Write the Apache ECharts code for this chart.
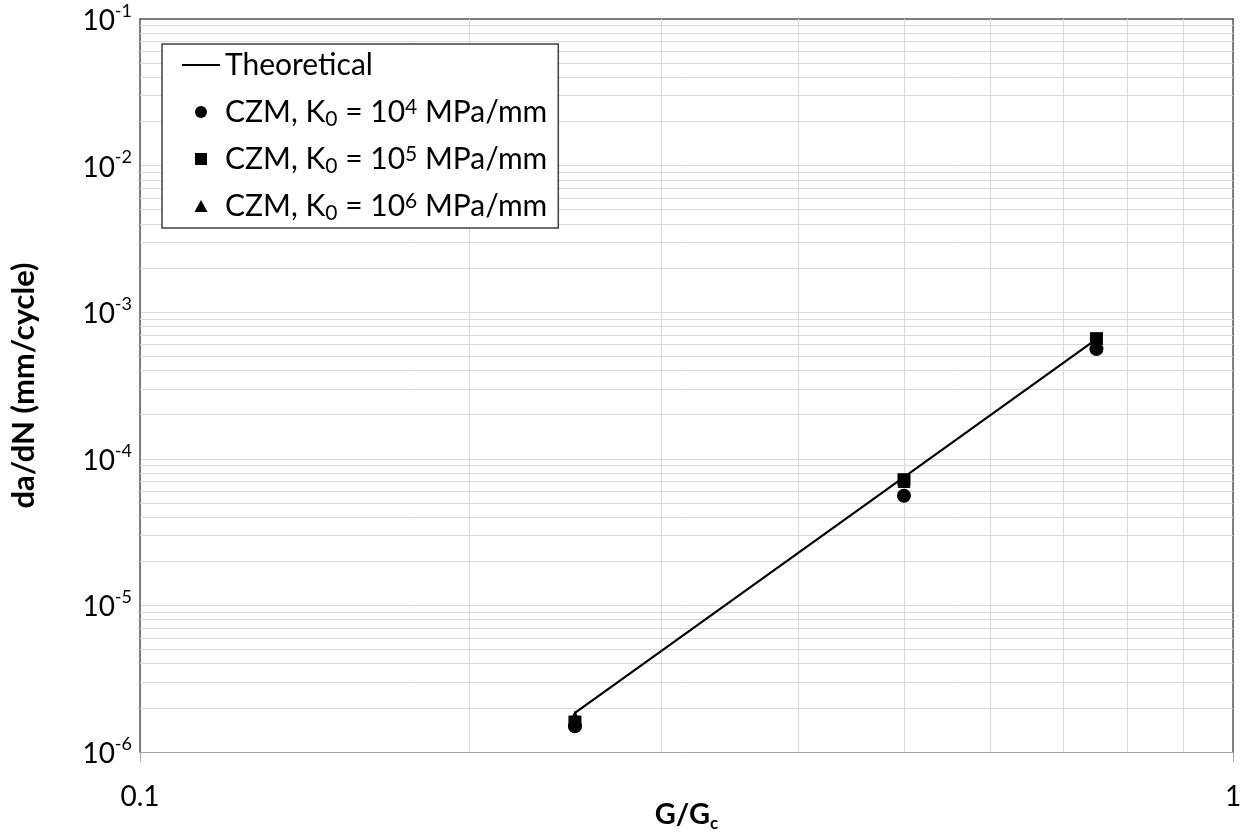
<!DOCTYPE html>
<html>
<head>
<meta charset="utf-8">
<script src="https://cdn.jsdelivr.net/npm/echarts@6/dist/echarts.min.js"></script>
<style>
html,body{margin:0;padding:0;background:#fff;}
#chart{width:1248px;height:836px;}
</style>
</head>
<body>
<div id="chart"></div>
<script>
// ---- data ----
const gRatio = [0.25, 0.5, 0.75];
const theoretical = [1.85e-6, 7.5e-5, 6.55e-4];
const czmK4 = [1.5e-6, 5.6e-5, 5.6e-4];
const czmK5 = [1.6e-6, 7.2e-5, 6.6e-4];
const czmK6 = [1.73e-6, 7.0e-5, 6.3e-4];
const seriesNames = ['Theoretical', 'CZM, K0 = 10^4 MPa/mm', 'CZM, K0 = 10^5 MPa/mm', 'CZM, K0 = 10^6 MPa/mm'];
const legendLabels = ['Theoretical', 'CZM, K{sub|0} = 10{sup|4} MPa/mm', 'CZM, K{sub|0} = 10{sup|5} MPa/mm', 'CZM, K{sub|0} = 10{sup|6} MPa/mm'];
const xTickLabels = {0.1: '0.1', 1: '1'};
const xMinorGrid = [0.2, 0.3, 0.4, 0.5, 0.6, 0.7, 0.8, 0.9];
const yMinorMantissa = [2, 3, 4, 5, 6, 7, 8, 9];
const yDecades = [1e-6, 1e-5, 1e-4, 1e-3, 1e-2];

const pairs = (ys) => gRatio.map((x, i) => [x, ys[i]]);
const yMinorGrid = [];
yDecades.forEach(d => yMinorMantissa.forEach(m => yMinorGrid.push(m * d)));

const FONT = 'Lato';
const legendIcons = [
  'path://M0,0 L36,0 L36,2 L0,2 Z',
  'circle',
  'path://M0,0 L11,0 L11,11 L0,11 Z',
  'path://M6,0 L12,11 L0,11 Z'
];
const chart = echarts.init(document.getElementById('chart'), null, {renderer: 'canvas'});

const option = {
  animation: false,
  backgroundColor: '#fff',
  grid: {left: 140, right: 15, top: 19, bottom: 84, outerBoundsMode: 'none', containLabel: false},
  legend: {
    orient: 'vertical',
    left: 162, top: 44,
    padding: [1.5, 11, 2.5, 20],
    itemGap: 8,
    itemWidth: 38, itemHeight: 12,
    borderColor: '#404040', borderWidth: 1.5,
    backgroundColor: '#fff',
    symbolKeepAspect: true,
    z: 10,
    data: seriesNames.map((n, i) => ({name: n, icon: legendIcons[i], itemStyle: {color: '#000', opacity: 1}})),
    formatter: (name) => legendLabels[seriesNames.indexOf(name)],
    textStyle: {
      fontFamily: FONT, fontSize: 30, color: '#000', lineHeight: 39,
      rich: {
        sub: {fontFamily: FONT, fontSize: 21, color: '#000', padding: [14, 0, 0, 0]},
        sup: {fontFamily: FONT, fontSize: 21, color: '#000', verticalAlign: 'top', lineHeight: 23, padding: [4, 0, 0, 0]}
      }
    }
  },
  xAxis: [{
    type: 'log', logBase: 10, min: 0.1, max: 1,
    name: '{m|G/G}{c|c}', nameLocation: 'middle', nameGap: 46, nameMoveOverlap: false,
    nameTextStyle: {
      rich: {
        m: {fontFamily: FONT, fontWeight: 'bold', fontSize: 29, color: '#000', lineHeight: 34},
        c: {fontFamily: FONT, fontWeight: 'bold', fontSize: 17, color: '#000', verticalAlign: 'bottom', lineHeight: 16}
      }
    },
    axisLine: {show: true, lineStyle: {color: '#a6a6a6', width: 1}},
    axisTick: {show: true, length: 10, lineStyle: {color: '#a6a6a6'}},
    axisLabel: {
      margin: 31, fontFamily: FONT, fontSize: 28, color: '#000',
      formatter: (v) => xTickLabels[+v.toPrecision(3)] !== undefined ? xTickLabels[+v.toPrecision(3)] : ''
    },
    splitLine: {show: true, lineStyle: {color: '#d9d9d9', width: 1}}
  }, {
    type: 'log', logBase: 10, min: 0.1, max: 1, position: 'top',
    axisLine: {show: true, lineStyle: {color: '#595959', width: 1.5}},
    axisTick: {show: false}, axisLabel: {show: false}, splitLine: {show: false}
  }],
  yAxis: [{
    type: 'log', logBase: 10, min: 1e-6, max: 1e-1,
    name: 'da/dN (mm/cycle)', nameLocation: 'middle', nameGap: 101, nameMoveOverlap: false,
    nameTextStyle: {fontFamily: FONT, fontWeight: 'bold', fontSize: 31, color: '#000'},
    axisLine: {show: true, lineStyle: {color: '#595959', width: 1.5}},
    axisTick: {show: false},
    axisLabel: {
      margin: 8,
      formatter: (v) => '{b|10}{s|' + Math.round(Math.log10(v)) + '}',
      rich: {
        b: {fontFamily: FONT, fontSize: 28, color: '#000', lineHeight: 34, padding: [4, 0, 0, 0]},
        s: {fontFamily: FONT, fontSize: 18, color: '#000', verticalAlign: 'top', lineHeight: 23}
      }
    },
    splitLine: {show: true, lineStyle: {color: '#d9d9d9', width: 1}}
  }, {
    type: 'log', logBase: 10, min: 1e-6, max: 1e-1, position: 'right',
    axisLine: {show: true, lineStyle: {color: '#595959', width: 1.5}},
    axisTick: {show: false}, axisLabel: {show: false}, splitLine: {show: false}
  }],
  series: [
    {
      name: '__grid', type: 'line', data: [], z: 1, silent: true,
      markLine: {
        silent: true, z: 1, symbol: ['none', 'none'], label: {show: false}, precision: 12,
        lineStyle: {color: '#d9d9d9', width: 1, type: 'solid'},
        emphasis: {disabled: true},
        data: xMinorGrid.map(v => ({xAxis: v})).concat(yMinorGrid.map(v => ({yAxis: v})))
      }
    },
    {
      name: seriesNames[0], type: 'line', data: pairs(theoretical), z: 3,
      symbol: 'none', lineStyle: {color: '#000', width: 2.2}, itemStyle: {color: '#000'}
    },
    {
      name: seriesNames[3], type: 'scatter', data: pairs(czmK6), z: 4,
      symbol: 'triangle', symbolSize: 13, itemStyle: {color: '#000', opacity: 1}
    },
    {
      name: seriesNames[1], type: 'scatter', data: pairs(czmK4), z: 4,
      symbol: 'circle', symbolSize: 14, itemStyle: {color: '#000', opacity: 1}
    },
    {
      name: seriesNames[2], type: 'scatter', data: pairs(czmK5), z: 4,
      symbol: 'rect', symbolSize: 13, itemStyle: {color: '#000', opacity: 1}
    }
  ]
};
chart.setOption(option);
</script>
</body>
</html>
